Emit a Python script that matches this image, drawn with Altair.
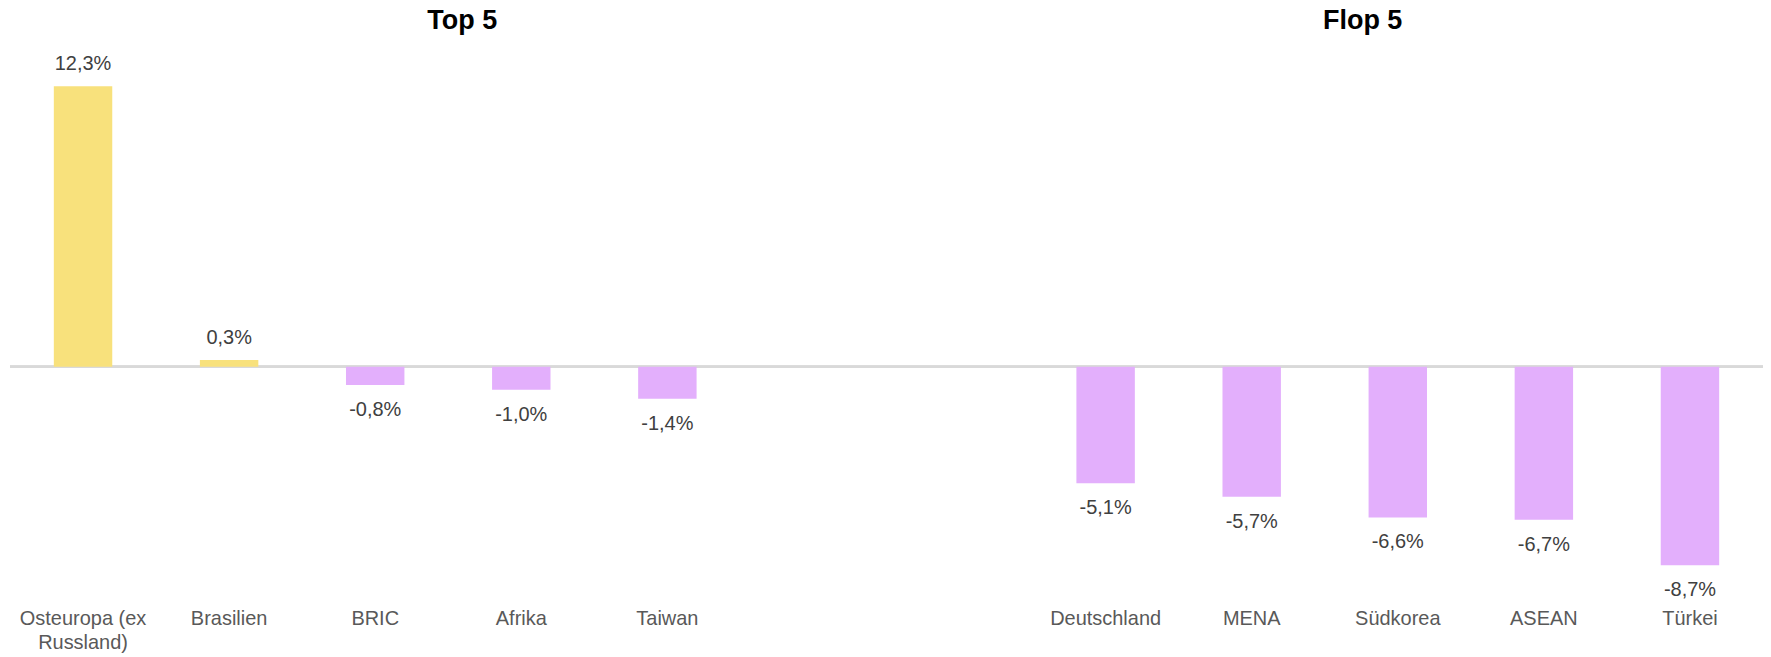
import altair as alt
import pandas as pd

categories = ["Osteuropa (ex|Russland)", "Brasilien", "BRIC", "Afrika", "Taiwan",
              " ", "  ",
              "Deutschland", "MENA", "Südkorea", "ASEAN", "Türkei"]
bar_categories = ["Osteuropa (ex|Russland)", "Brasilien", "BRIC", "Afrika", "Taiwan",
                  "Deutschland", "MENA", "Südkorea", "ASEAN", "Türkei"]
values = [12.3, 0.3, -0.8, -1.0, -1.4, -5.1, -5.7, -6.6, -6.7, -8.7]
group_titles = ["Top 5", "Flop 5"]

df = pd.DataFrame({"cat": bar_categories, "val": values})
df["label"] = df["val"].map(lambda v: f"{v:.1f}%".replace(".", ","))
df["sign"] = df["val"].map(lambda v: "pos" if v >= 0 else "neg")
df["zero"] = 0.0

FONT = "Liberation Sans"
W = 1756
H = 586

xscale = alt.Scale(domain=categories, paddingInner=0.6, paddingOuter=0.3)
yscale = alt.Scale(domain=[-10.2, 15.44], nice=False, zero=False)

X = alt.X("cat:N", scale=xscale, axis=None)
Y = alt.Y("val:Q", scale=yscale, axis=None)

base = alt.Chart(df)

zero = base.mark_rule(color="#D9D9D9", strokeWidth=2).encode(
    y=alt.Y("zero:Q", scale=yscale, axis=None),
    x=alt.value(0), x2=alt.value(W),
)

bars = base.mark_bar().encode(
    x=X, y=Y, y2="zero:Q",
    color=alt.Color("sign:N", scale=alt.Scale(domain=["pos", "neg"],
                                              range=["#F8E17C", "#E3AFFC"]),
                    legend=None),
)

pos_lbl = base.transform_filter("datum.val >= 0").mark_text(
    font=FONT, fontSize=20, color="#404040", baseline="middle", dy=-22
).encode(x=X, y=Y, text="label:N")

neg_lbl = base.transform_filter("datum.val < 0").mark_text(
    font=FONT, fontSize=20, color="#404040", baseline="middle", dy=25
).encode(x=X, y=Y, text="label:N")

cat_lbl = base.mark_text(
    font=FONT, fontSize=20, color="#595959", baseline="middle", lineBreak="|",
    lineHeight=24
).encode(x=X, y=alt.value(606), text="cat:N")

title_df = pd.DataFrame({"t": group_titles, "px": [453, 1355]})
titles = alt.Chart(title_df).mark_text(
    font=FONT, fontSize=27, fontWeight="bold", color="#000000", baseline="middle"
).encode(x=alt.X("px:Q", scale=None), y=alt.value(6), text="t:N")

chart = alt.layer(zero, bars, pos_lbl, neg_lbl, cat_lbl, titles).properties(
    width=W, height=H,
    padding={"left": 2, "top": 6, "right": 0, "bottom": 56},
    autosize=alt.AutoSizeParams(type="none"),
    background="white",
).configure_view(strokeWidth=0, stroke=None)

chart.save("out.html", embed_options={"renderer": "svg", "actions": False})
